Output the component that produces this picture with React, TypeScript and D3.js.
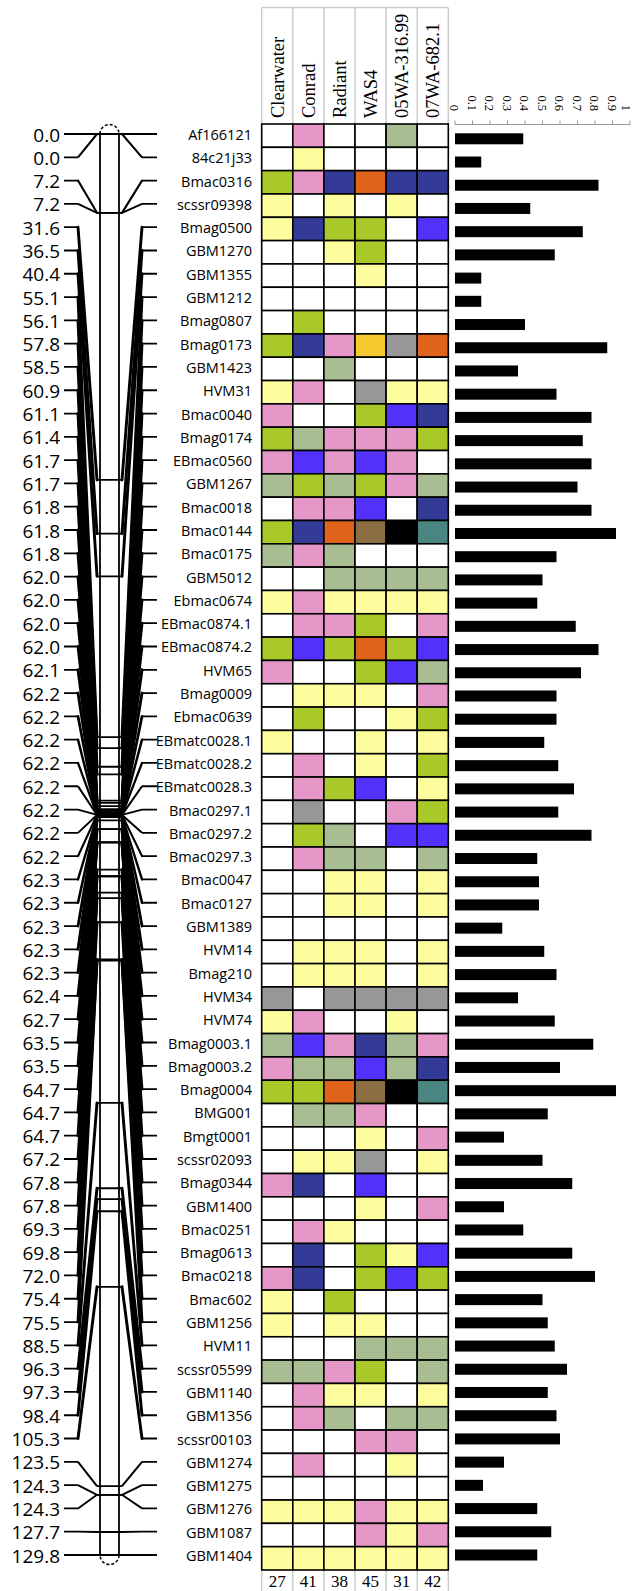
import React from "react";
import * as d3 from "d3";

const markers = ["Af166121","84c21j33","Bmac0316","scssr09398","Bmag0500","GBM1270","GBM1355","GBM1212","Bmag0807","Bmag0173","GBM1423","HVM31","Bmac0040","Bmag0174","EBmac0560","GBM1267","Bmac0018","Bmac0144","Bmac0175","GBM5012","Ebmac0674","EBmac0874.1","EBmac0874.2","HVM65","Bmag0009","Ebmac0639","EBmatc0028.1","EBmatc0028.2","EBmatc0028.3","Bmac0297.1","Bmac0297.2","Bmac0297.3","Bmac0047","Bmac0127","GBM1389","HVM14","Bmag210","HVM34","HVM74","Bmag0003.1","Bmag0003.2","Bmag0004","BMG001","Bmgt0001","scssr02093","Bmag0344","GBM1400","Bmac0251","Bmag0613","Bmac0218","Bmac602","GBM1256","HVM11","scssr05599","GBM1140","GBM1356","scssr00103","GBM1274","GBM1275","GBM1276","GBM1087","GBM1404"];

const positions = [0.0,0.0,7.2,7.2,31.6,36.5,40.4,55.1,56.1,57.8,58.5,60.9,61.1,61.4,61.7,61.7,61.8,61.8,61.8,62.0,62.0,62.0,62.0,62.1,62.2,62.2,62.2,62.2,62.2,62.2,62.2,62.2,62.3,62.3,62.3,62.3,62.3,62.4,62.7,63.5,63.5,64.7,64.7,64.7,67.2,67.8,67.8,69.3,69.8,72.0,75.4,75.5,88.5,96.3,97.3,98.4,105.3,123.5,124.3,124.3,127.7,129.8];

const picValues = [0.39,0.15,0.82,0.43,0.73,0.57,0.15,0.15,0.40,0.87,0.36,0.58,0.78,0.73,0.78,0.70,0.78,0.92,0.58,0.50,0.47,0.69,0.82,0.72,0.58,0.58,0.51,0.59,0.68,0.59,0.78,0.47,0.48,0.48,0.27,0.51,0.58,0.36,0.57,0.79,0.60,0.92,0.53,0.28,0.50,0.67,0.28,0.39,0.67,0.80,0.50,0.53,0.57,0.64,0.53,0.58,0.60,0.28,0.16,0.47,0.55,0.47];

const varieties = ["Clearwater","Conrad","Radiant","WAS4","05WA-316.99","07WA-682.1"];
const alleleCounts = [27,41,38,45,31,42];

// one code letter per variety, per marker
const genotypes = ["WPWWGW","WYWWWW","LPDODD","YWYWYW","YDLLWB","WWYLWW","WWWYWW","WWWWWW","WLWWWW","LDPARO","WWGWWW","YPWRYY","PWWLBD","LGPPPL","PBPBPW","GLGLPG","WPPBWD","LDONKT","GPGWWW","WWGGGG","YPYYYY","WPPLWP","LBLOLB","PWWLBG","WYYYWP","WLWWYL","YWWYWY","WPWYWL","WPLBWY","WRWWPL","WLGWBB","WPGGWG","WWYYWY","WWYYWY","WWWWWW","WYYYWY","WYYYWY","RWRRRR","YPWWYW","GBPDGP","PGGBGD","LLONKT","WGGPWW","WWWYWP","WYYRWY","PDWBWW","WWWYWP","WPYWWW","WDWLYB","PDWLBL","YWLWWW","YWYYWW","WWWGGG","GGPLWG","WPYYWY","WPGWGG","WWWPPW","WPWWYW","WWWWWW","YYYPYY","WWWPYP","YYYYYY"];

const alleleKeys = ["W","P","Y","G","L","D","B","O","R","A","N","K","T"];
const alleleColors = ["#ffffff","#e597c8","#fdfd9d","#a8bd92","#a9c92b","#343b97","#5232fb","#e0631b","#979797","#f5c930","#8a6d41","#000000","#4a8582"];

const axisTicks = [0,0.1,0.2,0.3,0.4,0.5,0.6,0.7,0.8,0.9,1];
const axisTickLabels = ["0","0.1","0.2","0.3","0.4","0.5","0.6","0.7","0.8","0.9","1"];

export default function App() {
  const W = 633, H = 1591;
  const color = d3.scaleOrdinal<string, string>().domain(alleleKeys).range(alleleColors);

  // grid
  const xCol = d3.scaleBand<string>().domain(varieties).range([261.7, 448.3]);
  const yRow = d3.scaleBand<string>().domain(markers).range([124, 1570]);
  // bars
  const xBar = d3.scaleLinear().domain([0, 1]).range([455, 630]);
  const yBar = d3.scalePoint<string>().domain(markers).range([138.8, 1555]);
  // map
  const yLabel = d3.scalePoint<string>().domain(markers).range([134, 1555]);
  const yChrom = d3.scaleLinear().domain([0, 129.8]).range([134, 1555]);
  const diagWidth = d3.scaleLinear().domain([0, 120]).range([1.8, 2.9]).clamp(true);

  const chromL = 100, chromR = 119;
  const serif = "'Liberation Serif', 'Times New Roman', serif";
  const sans = "'Open Sans', 'Noto Sans', sans-serif";
  const gridTop = 124, gridBot = 1570;
  const colEdges = [...varieties.map((v) => xCol(v)!), xCol.range()[1]];

  const lx0 = 64, lx1 = 78, lx2 = 97, rx2 = 122, rx1 = 142, rx0 = 157;

  const ticksPath = (i: number) => {
    const r = yLabel(markers[i])!;
    const c = yChrom(positions[i]);
    const p = d3.path();
    p.moveTo(lx0, r); p.lineTo(lx1, r);
    p.moveTo(lx2, c); p.lineTo(rx2, c);
    p.moveTo(rx1, r); p.lineTo(rx0, r);
    return p.toString();
  };
  const diagPath = (i: number) => {
    const r = yLabel(markers[i])!;
    const c = yChrom(positions[i]);
    const p = d3.path();
    p.moveTo(lx1, r); p.lineTo(lx2, c);
    p.moveTo(rx2, c); p.lineTo(rx1, r);
    return p.toString();
  };
  const gap = (i: number) => Math.abs(yLabel(markers[i])! - yChrom(positions[i]));

  const cTop = yChrom(0), cBot = yChrom(129.8);
  const mid = (chromL + chromR) / 2;
  const rad = (chromR - chromL) / 2;
  const topArc = d3.path();
  topArc.arc(mid, cTop, rad, Math.PI, 2 * Math.PI);
  const botArc = d3.path();
  botArc.arc(mid, cBot, rad, 0, Math.PI);

  return (
    <svg width={W} height={H} style={{ position: "absolute", left: 0, top: 0, background: "#fff" }}>
      <rect x={0} y={0} width={W} height={H} fill="#fff" />

      {/* chromosome */}
      <g fill="none" stroke="#000">
        {markers.map((m, i) => (
          <path key={"d" + i} d={diagPath(i)} strokeWidth={diagWidth(gap(i))}
            strokeLinecap={gap(i) > 30 ? "round" : "butt"} />
        ))}
        {markers.map((m, i) => (
          <path key={"k" + i} d={ticksPath(i)} strokeWidth={1.8} />
        ))}
        <line x1={chromL} x2={chromL} y1={cTop} y2={cBot} strokeWidth={1.8} />
        <line x1={chromR} x2={chromR} y1={cTop} y2={cBot} strokeWidth={1.8} />
        <path d={topArc.toString()} strokeWidth={1.5} strokeDasharray="3,2" />
        <path d={botArc.toString()} strokeWidth={1.5} strokeDasharray="3,2" />
      </g>
      {markers.map((m, i) => (
        <text key={"p" + i} x={60} y={yLabel(m)! + 7.5} textAnchor="end" fontFamily={sans} fontSize={19} fill="#000">
          {positions[i].toFixed(1)}
        </text>
      ))}
      {markers.map((m, i) => (
        <text key={"m" + i} x={252} y={yLabel(m)! + 6} textAnchor="end" fontFamily={sans} fontSize={14.5} fill="#000">
          {m}
        </text>
      ))}

      {/* header */}
      <g stroke="#cccccc" strokeWidth={1.5}>
        <line x1={colEdges[0]} x2={colEdges[6]} y1={7.5} y2={7.5} />
        {colEdges.map((x, i) => (
          <line key={"hv" + i} x1={x} x2={x} y1={7.5} y2={gridTop} />
        ))}
        {colEdges.map((x, i) => (
          <line key={"bv" + i} x1={x} x2={x} y1={gridBot} y2={H} />
        ))}
      </g>
      {varieties.map((v) => (
        <text key={v} transform={`translate(${xCol(v)! + xCol.bandwidth() / 2 + 6.5},118) rotate(-90)`}
          fontFamily={serif} fontSize={18.5} fill="#000">
          {v}
        </text>
      ))}

      {/* cells */}
      <g stroke="#000" strokeWidth={1.6}>
        {markers.map((m, i) =>
          varieties.map((v, j) => (
            <rect key={m + v} x={xCol(v)} y={yRow(m)} width={xCol.bandwidth()} height={yRow.bandwidth()}
              fill={color(genotypes[i][j])} />
          ))
        )}
      </g>

      {/* counts */}
      {varieties.map((v, j) => (
        <text key={"c" + v} x={xCol(v)! + xCol.bandwidth() / 2} y={1587} textAnchor="middle" fontFamily={serif} fontSize={17} fill="#000">
          {alleleCounts[j]}
        </text>
      ))}

      {/* bar axis */}
      <g stroke="#999" strokeWidth={1}>
        <line x1={xBar(0)} x2={xBar(1)} y1={124.5} y2={124.5} />
        {axisTicks.map((t) => (
          <line key={"t" + t} x1={xBar(t)} x2={xBar(t)} y1={124.5} y2={120.5} />
        ))}
      </g>
      {axisTicks.map((t, i) => (
        <text key={"tl" + t} transform={`translate(${Math.min(xBar(t) - 5, 622)},111) rotate(90)`} textAnchor="end"
          fontFamily={serif} fontSize={12.5} fill="#000">
          {axisTickLabels[i]}
        </text>
      ))}

      {/* bars */}
      {markers.map((m, i) => (
        <rect key={"b" + i} x={xBar(0)} y={yBar(m)! - 5.5} width={xBar(picValues[i]) - xBar(0)} height={11} fill="#000" />
      ))}
    </svg>
  );
}
